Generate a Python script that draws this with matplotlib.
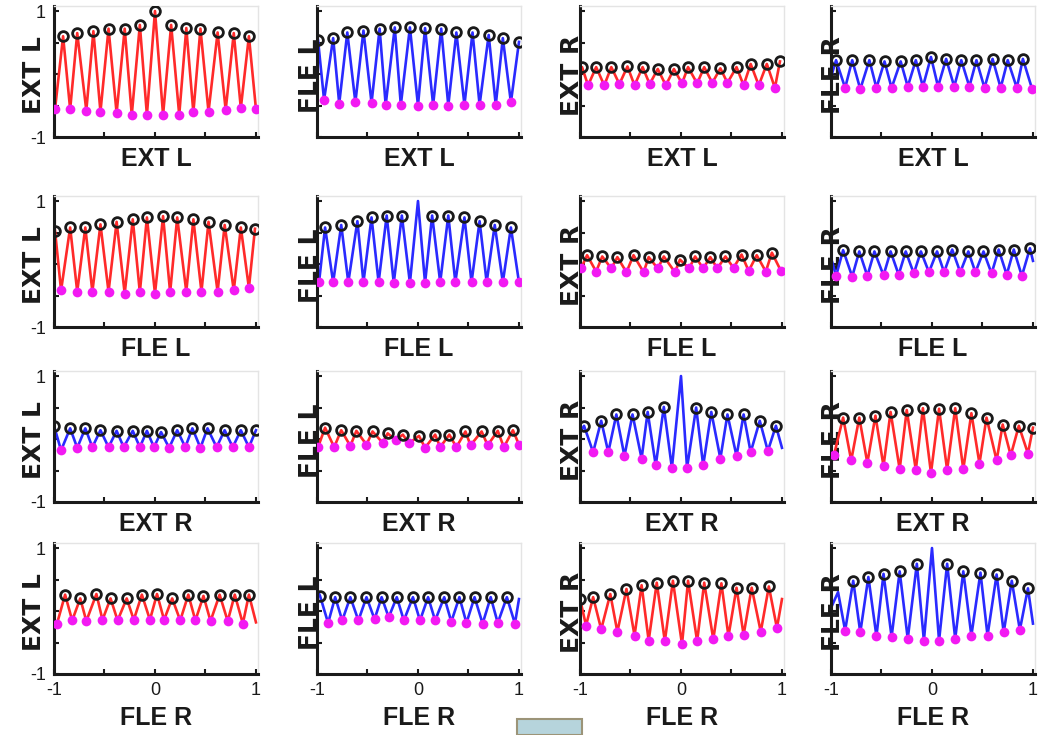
import matplotlib
matplotlib.use('Agg')
import matplotlib.pyplot as plt
from matplotlib.patches import Rectangle

plt.rcParams['font.family'] = ['Liberation Sans', 'DejaVu Sans']

W, H = 1058, 735

NAMES = ['EXT L', 'FLE L', 'EXT R', 'FLE R']
RED, BLUE = '#ff2a2a', '#2a2aff'
LINE_COLOURS = [[RED, BLUE, RED, BLUE],
                [RED, BLUE, RED, BLUE],
                [BLUE, RED, BLUE, RED],
                [RED, BLUE, RED, BLUE]]

# each panel: peaks (black rings), troughs (magenta dots) as (lags, values),
# plus extra unmarked vertices of the curve (edges, lag-0 spikes)
PK_11 = ([-0.91, -0.77, -0.61, -0.46, -0.30, -0.15, 0.0, 0.16, 0.31, 0.45, 0.62, 0.78, 0.93],
         [0.60, 0.65, 0.68, 0.72, 0.72, 0.78, 1.0, 0.78, 0.73, 0.72, 0.66, 0.65, 0.60])
TR_11 = ([-0.99, -0.84, -0.68, -0.54, -0.38, -0.23, -0.08, 0.08, 0.24, 0.38, 0.53, 0.70, 0.85, 1.0],
         [-0.56, -0.56, -0.58, -0.60, -0.62, -0.65, -0.65, -0.65, -0.65, -0.61, -0.60, -0.57, -0.54, -0.56])
EX_11 = []

PK_12 = ([-0.99, -0.84, -0.70, -0.54, -0.38, -0.23, -0.08, 0.07, 0.23, 0.38, 0.54, 0.70, 0.84, 1.0],
         [0.54, 0.57, 0.66, 0.69, 0.72, 0.74, 0.74, 0.73, 0.72, 0.66, 0.66, 0.62, 0.57, 0.51])
TR_12 = ([-0.93, -0.78, -0.62, -0.46, -0.32, -0.17, 0.0, 0.15, 0.30, 0.46, 0.61, 0.77, 0.92],
         [-0.41, -0.47, -0.45, -0.46, -0.49, -0.49, -0.50, -0.49, -0.50, -0.49, -0.49, -0.49, -0.45])
EX_12 = []

PK_13 = ([-0.98, -0.84, -0.69, -0.53, -0.38, -0.23, -0.07, 0.07, 0.23, 0.39, 0.55, 0.69, 0.85, 0.98],
         [0.11, 0.11, 0.11, 0.12, 0.11, 0.08, 0.08, 0.11, 0.11, 0.09, 0.11, 0.16, 0.16, 0.20])
TR_13 = ([-0.92, -0.76, -0.61, -0.46, -0.31, -0.15, 0.01, 0.16, 0.31, 0.46, 0.62, 0.77, 0.93],
         [-0.18, -0.18, -0.16, -0.18, -0.16, -0.18, -0.15, -0.15, -0.14, -0.14, -0.18, -0.18, -0.22])
EX_13 = [(-1.0, 0.0)]

PK_14 = ([-0.95, -0.79, -0.62, -0.47, -0.31, -0.16, -0.01, 0.14, 0.29, 0.44, 0.60, 0.75, 0.90],
         [0.22, 0.22, 0.22, 0.20, 0.20, 0.22, 0.27, 0.24, 0.22, 0.22, 0.24, 0.22, 0.24])
TR_14 = ([-0.86, -0.71, -0.55, -0.40, -0.24, -0.09, 0.06, 0.22, 0.37, 0.52, 0.68, 0.84, 0.99],
         [-0.22, -0.24, -0.22, -0.22, -0.20, -0.20, -0.20, -0.20, -0.20, -0.22, -0.22, -0.22, -0.23])
EX_14 = [(-1.0, -0.05)]

PK_21 = ([-0.99, -0.84, -0.69, -0.54, -0.38, -0.22, -0.08, 0.08, 0.22, 0.38, 0.53, 0.69, 0.85, 0.99],
         [0.53, 0.58, 0.58, 0.63, 0.67, 0.71, 0.74, 0.76, 0.74, 0.71, 0.67, 0.62, 0.58, 0.56])
TR_21 = ([-0.93, -0.77, -0.62, -0.46, -0.30, -0.15, 0.0, 0.15, 0.31, 0.46, 0.62, 0.78, 0.93],
         [-0.42, -0.44, -0.44, -0.44, -0.47, -0.45, -0.47, -0.45, -0.44, -0.44, -0.44, -0.42, -0.38])
EX_21 = []

PK_22 = ([-0.92, -0.76, -0.60, -0.46, -0.31, -0.16, 0.14, 0.30, 0.46, 0.61, 0.76, 0.92],
         [0.58, 0.62, 0.68, 0.74, 0.77, 0.77, 0.77, 0.77, 0.74, 0.68, 0.62, 0.58])
TR_22 = ([-0.98, -0.84, -0.69, -0.54, -0.39, -0.24, -0.08, 0.07, 0.22, 0.37, 0.53, 0.68, 0.84, 1.0],
         [-0.29, -0.29, -0.29, -0.29, -0.29, -0.30, -0.30, -0.30, -0.29, -0.29, -0.29, -0.29, -0.29, -0.29])
EX_22 = [(0.0, 1.0)]

PK_23 = ([-0.93, -0.78, -0.63, -0.47, -0.32, -0.17, -0.01, 0.14, 0.29, 0.44, 0.60, 0.75, 0.90],
         [0.14, 0.12, 0.11, 0.14, 0.11, 0.12, 0.07, 0.12, 0.11, 0.12, 0.15, 0.14, 0.18])
TR_23 = ([-0.99, -0.84, -0.69, -0.54, -0.37, -0.23, -0.06, 0.08, 0.22, 0.36, 0.52, 0.67, 0.84, 0.99],
         [-0.07, -0.12, -0.07, -0.13, -0.13, -0.07, -0.13, -0.07, -0.07, -0.07, -0.06, -0.11, -0.12, -0.11])
EX_23 = []

PK_24 = ([-0.88, -0.72, -0.57, -0.41, -0.26, -0.11, 0.05, 0.20, 0.36, 0.51, 0.66, 0.81, 0.97],
         [0.22, 0.20, 0.20, 0.20, 0.20, 0.20, 0.20, 0.23, 0.20, 0.20, 0.23, 0.23, 0.25])
TR_24 = ([-0.95, -0.79, -0.64, -0.48, -0.33, -0.18, -0.03, 0.12, 0.28, 0.43, 0.59, 0.74, 0.89],
         [-0.19, -0.20, -0.19, -0.18, -0.17, -0.15, -0.13, -0.13, -0.13, -0.13, -0.15, -0.17, -0.19])
EX_24 = [(-1.0, 0.10), (1.0, 0.05)]

PK_31 = ([-1.0, -0.84, -0.69, -0.54, -0.38, -0.22, -0.08, 0.06, 0.22, 0.37, 0.52, 0.69, 0.85, 1.0],
         [0.21, 0.17, 0.17, 0.14, 0.13, 0.13, 0.13, 0.11, 0.14, 0.17, 0.17, 0.14, 0.14, 0.14])
TR_31 = ([-0.93, -0.77, -0.62, -0.46, -0.31, -0.15, -0.01, 0.14, 0.30, 0.45, 0.61, 0.77, 0.93],
         [-0.18, -0.14, -0.13, -0.13, -0.13, -0.13, -0.13, -0.14, -0.13, -0.14, -0.13, -0.13, -0.13])
EX_31 = []

PK_32 = ([-0.92, -0.76, -0.61, -0.45, -0.30, -0.15, 0.01, 0.17, 0.31, 0.47, 0.63, 0.79, 0.94],
         [0.18, 0.14, 0.13, 0.12, 0.09, 0.07, 0.05, 0.07, 0.07, 0.12, 0.12, 0.13, 0.14])
TR_32 = ([-0.99, -0.83, -0.67, -0.51, -0.35, -0.22, -0.09, 0.07, 0.22, 0.38, 0.52, 0.69, 0.85, 1.0],
         [-0.13, -0.13, -0.11, -0.09, -0.06, -0.02, -0.07, -0.14, -0.13, -0.13, -0.10, -0.10, -0.13, -0.09])
EX_32 = []

PK_33 = ([-0.96, -0.79, -0.64, -0.48, -0.33, -0.17, 0.15, 0.30, 0.46, 0.62, 0.78, 0.94],
         [0.21, 0.29, 0.39, 0.39, 0.43, 0.51, 0.50, 0.43, 0.39, 0.39, 0.29, 0.21])
TR_33 = ([-0.87, -0.72, -0.56, -0.39, -0.25, -0.09, 0.06, 0.22, 0.39, 0.55, 0.69, 0.86],
         [-0.21, -0.21, -0.27, -0.31, -0.42, -0.46, -0.46, -0.42, -0.31, -0.27, -0.21, -0.19])
EX_33 = [(-1.0, 0.10), (0.0, 1.0), (1.0, -0.14)]

PK_34 = ([-0.88, -0.72, -0.56, -0.41, -0.25, -0.09, 0.07, 0.23, 0.39, 0.54, 0.70, 0.86, 1.0],
         [0.34, 0.34, 0.37, 0.43, 0.46, 0.49, 0.48, 0.49, 0.41, 0.34, 0.23, 0.21, 0.18])
TR_34 = ([-0.97, -0.80, -0.64, -0.48, -0.32, -0.16, -0.01, 0.15, 0.31, 0.47, 0.64, 0.78, 0.95],
         [-0.25, -0.34, -0.38, -0.43, -0.48, -0.49, -0.54, -0.49, -0.48, -0.39, -0.34, -0.26, -0.23])
EX_34 = []

PK_41 = ([-0.89, -0.74, -0.58, -0.44, -0.28, -0.13, 0.02, 0.17, 0.33, 0.48, 0.64, 0.79, 0.93],
         [0.26, 0.20, 0.27, 0.20, 0.20, 0.26, 0.27, 0.20, 0.26, 0.24, 0.26, 0.26, 0.26])
TR_41 = ([-0.97, -0.82, -0.68, -0.52, -0.37, -0.21, -0.05, 0.09, 0.25, 0.40, 0.55, 0.72, 0.87],
         [-0.20, -0.15, -0.16, -0.14, -0.15, -0.14, -0.14, -0.14, -0.15, -0.15, -0.16, -0.16, -0.20])
EX_41 = [(1.0, -0.18)]

PK_42 = ([-0.97, -0.82, -0.67, -0.51, -0.36, -0.21, -0.05, 0.10, 0.26, 0.41, 0.56, 0.72, 0.88],
         [0.24, 0.22, 0.22, 0.22, 0.22, 0.22, 0.22, 0.22, 0.22, 0.22, 0.22, 0.22, 0.22])
TR_42 = ([-0.89, -0.75, -0.59, -0.43, -0.29, -0.14, 0.02, 0.17, 0.33, 0.48, 0.64, 0.79, 0.96],
         [-0.19, -0.15, -0.15, -0.13, -0.10, -0.15, -0.15, -0.15, -0.17, -0.19, -0.20, -0.19, -0.20])
EX_42 = [(-1.0, 0.35), (1.0, 0.19)]

PK_43 = ([-1.0, -0.87, -0.70, -0.54, -0.39, -0.24, -0.08, 0.07, 0.23, 0.40, 0.55, 0.70, 0.87],
         [0.19, 0.22, 0.27, 0.35, 0.41, 0.45, 0.48, 0.48, 0.45, 0.44, 0.37, 0.37, 0.39])
TR_43 = ([-0.94, -0.79, -0.63, -0.46, -0.32, -0.16, 0.01, 0.16, 0.32, 0.47, 0.62, 0.79, 0.95],
         [-0.23, -0.29, -0.33, -0.39, -0.47, -0.48, -0.53, -0.48, -0.45, -0.40, -0.38, -0.33, -0.27])
EX_43 = [(1.0, 0.19)]

PK_44 = ([-0.78, -0.63, -0.48, -0.32, -0.15, 0.15, 0.31, 0.48, 0.64, 0.79, 0.95],
         [0.48, 0.54, 0.59, 0.63, 0.75, 0.75, 0.63, 0.61, 0.58, 0.48, 0.36])
TR_44 = ([-0.86, -0.71, -0.55, -0.40, -0.24, -0.08, 0.07, 0.23, 0.39, 0.55, 0.71, 0.87],
         [-0.31, -0.34, -0.40, -0.41, -0.44, -0.47, -0.47, -0.44, -0.39, -0.39, -0.34, -0.30])
EX_44 = [(-1.0, 0.05), (-0.93, 0.30), (0.0, 1.0), (1.0, -0.20)]

PEAKS = [[PK_11, PK_12, PK_13, PK_14], [PK_21, PK_22, PK_23, PK_24],
         [PK_31, PK_32, PK_33, PK_34], [PK_41, PK_42, PK_43, PK_44]]
TROUGHS = [[TR_11, TR_12, TR_13, TR_14], [TR_21, TR_22, TR_23, TR_24],
           [TR_31, TR_32, TR_33, TR_34], [TR_41, TR_42, TR_43, TR_44]]
EXTRA = [[EX_11, EX_12, EX_13, EX_14], [EX_21, EX_22, EX_23, EX_24],
         [EX_31, EX_32, EX_33, EX_34], [EX_41, EX_42, EX_43, EX_44]]

# layout in pixels
COL_LEFT = [54, 317, 580, 831]
ROW_BOTTOM = [137, 327, 502, 674]
AX_W, AX_H = 204, 131
YLAB_X = [-0.098, -0.034, -0.039, 0.01]

fig = plt.figure(figsize=(W / 100, H / 100), dpi=100)
fig.patch.set_facecolor('white')

for r in range(4):
    for c in range(4):
        ax = fig.add_axes([COL_LEFT[c] / W, (H - ROW_BOTTOM[r]) / H, AX_W / W, AX_H / H])
        pk, tr, ex = PEAKS[r][c], TROUGHS[r][c], EXTRA[r][c]
        pts = sorted(list(zip(*pk)) + list(zip(*tr)) + list(ex))
        ax.plot([p[0] for p in pts], [p[1] for p in pts], color=LINE_COLOURS[r][c],
                lw=1.9, zorder=2)
        ax.plot(tr[0], tr[1], 'o', color='#f21af2', ms=7, mec='none', zorder=3)
        ax.plot(pk[0], pk[1], 'o', mfc='none', mec='#1a1a1a', mew=2.0, ms=7, zorder=4)

        ax.set_xlim(-1, 1.02)
        ax.set_ylim(-1, 1.08)
        ax.set_xticks([-1, -0.5, 0, 0.5, 1])
        ax.set_yticks([-1, -0.5, 0, 0.5, 1])
        ax.set_xticklabels(['-1', '', '0', '', '1'] if r == 3 else [])
        ax.set_yticklabels(['-1', '', '', '', '1'] if c == 0 else [])
        ax.tick_params(direction='in', length=3.5, width=1.5, top=False, right=False,
                       labelsize=13, pad=6, colors='#1a1a1a')
        for s in ['left', 'bottom']:
            ax.spines[s].set_color('#1a1a1a')
            ax.spines[s].set_linewidth(2.2)
        for s in ['top', 'right']:
            ax.spines[s].set_color('#e4e4e4')
            ax.spines[s].set_linewidth(1)

        ax.set_xlabel(NAMES[r], fontsize=18, fontweight='bold', color='#1a1a1a')
        ax.xaxis.set_label_coords(0.5, -32 / AX_H if r == 3 else -10 / AX_H)
        yl = ax.set_ylabel(NAMES[c], fontsize=18, fontweight='bold', family='DejaVu Sans',
                           color='#1a1a1a')
        yl.set_va('center')
        ax.yaxis.set_label_coords(YLAB_X[c], 0.47)

# small window button at the bottom edge
fig.patches.append(Rectangle((517 / W, 0), 65 / W, 16 / H, transform=fig.transFigure,
                             facecolor='#b6d4dc', edgecolor='#9c9478', lw=1.5))

fig.savefig('out.png', dpi=100)
